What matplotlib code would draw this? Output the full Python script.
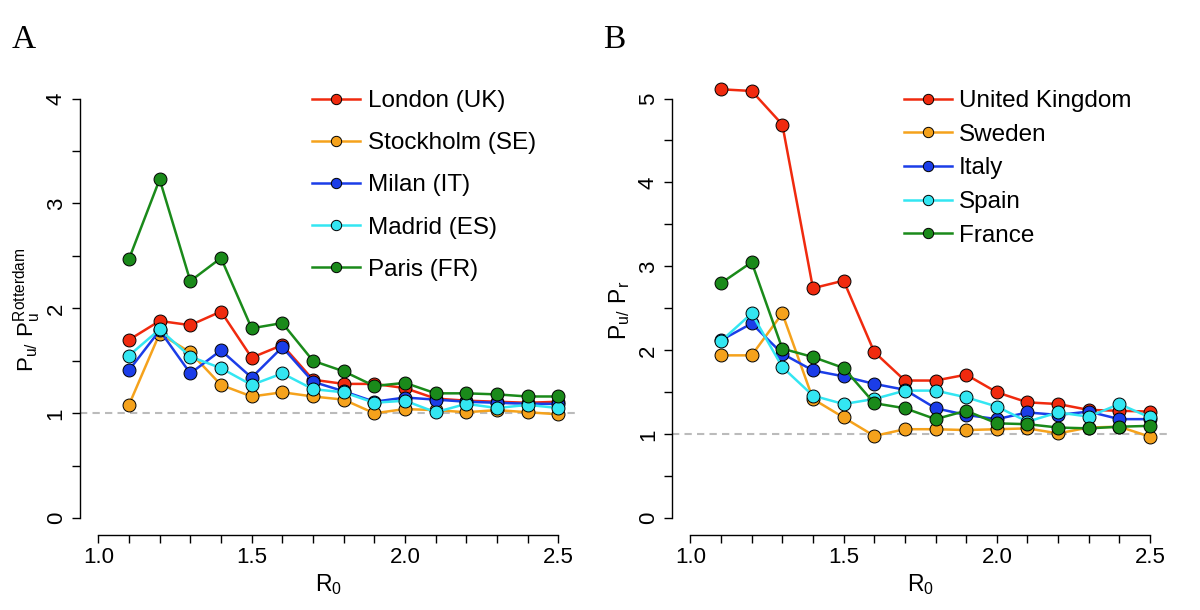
import numpy as np
import matplotlib
matplotlib.use("Agg")
import matplotlib.pyplot as plt
from matplotlib.ticker import MultipleLocator, FixedLocator

plt.rcParams['font.family'] = ['Liberation Sans', 'DejaVu Sans']
plt.rcParams['mathtext.fontset'] = 'custom'
plt.rcParams['mathtext.rm'] = 'Liberation Sans'

# R0 values on the x axis
r0 = [1.1, 1.2, 1.3, 1.4, 1.5, 1.6, 1.7, 1.8, 1.9, 2.0, 2.1, 2.2, 2.3, 2.4, 2.5]

# panel A: cities relative to Rotterdam
city_names = ["London (UK)", "Stockholm (SE)", "Milan (IT)", "Madrid (ES)", "Paris (FR)"]
london = [1.70, 1.88, 1.84, 1.97, 1.53, 1.65, 1.32, 1.28, 1.28, 1.24, 1.14, 1.12, 1.11, 1.10, 1.11]
stockholm = [1.08, 1.76, 1.58, 1.27, 1.16, 1.20, 1.16, 1.13, 1.00, 1.04, 1.03, 1.01, 1.03, 1.01, 0.99]
milan = [1.41, 1.79, 1.38, 1.60, 1.34, 1.63, 1.30, 1.21, 1.11, 1.15, 1.13, 1.11, 1.10, 1.09, 1.09]
madrid = [1.55, 1.80, 1.54, 1.43, 1.27, 1.38, 1.23, 1.20, 1.10, 1.12, 1.01, 1.09, 1.05, 1.08, 1.05]
paris = [2.47, 3.23, 2.26, 2.48, 1.81, 1.86, 1.50, 1.40, 1.26, 1.29, 1.19, 1.19, 1.18, 1.16, 1.16]

# panel B: countries, urban vs rural
country_names = ["United Kingdom", "Sweden", "Italy", "Spain", "France"]
uk = [5.11, 5.09, 4.69, 2.74, 2.83, 1.98, 1.64, 1.64, 1.71, 1.50, 1.38, 1.36, 1.29, 1.28, 1.27]
sweden = [1.94, 1.94, 2.44, 1.42, 1.20, 0.98, 1.06, 1.06, 1.05, 1.06, 1.07, 1.01, 1.08, 1.09, 0.97]
italy = [2.12, 2.32, 1.96, 1.76, 1.69, 1.60, 1.53, 1.31, 1.23, 1.18, 1.26, 1.23, 1.27, 1.18, 1.18]
spain = [2.11, 2.44, 1.80, 1.46, 1.36, 1.42, 1.52, 1.52, 1.44, 1.33, 1.15, 1.26, 1.21, 1.36, 1.20]
france = [2.80, 3.05, 2.02, 1.92, 1.79, 1.37, 1.31, 1.18, 1.28, 1.13, 1.12, 1.08, 1.07, 1.09, 1.10]

colors = ['#F02A0E', '#F5A21C', '#1B3DE8', '#33E6F2', '#1A8A1A']


def style_axis(ax, ymax):
    ax.set_xlim(0.94, 2.56)
    ax.set_ylim(-0.04 * ymax, 1.04 * ymax)
    ax.spines['top'].set_visible(False)
    ax.spines['right'].set_visible(False)
    ax.spines['left'].set_bounds(0, ymax)
    ax.spines['bottom'].set_bounds(1.0, 2.5)
    for s in ['left', 'bottom']:
        ax.spines[s].set_linewidth(1.0)
    ax.xaxis.set_major_locator(FixedLocator([1.0, 1.5, 2.0, 2.5]))
    ax.xaxis.set_minor_locator(MultipleLocator(0.1))
    ax.set_xticklabels(["1.0", "1.5", "2.0", "2.5"])
    ax.yaxis.set_major_locator(MultipleLocator(1))
    ax.yaxis.set_minor_locator(MultipleLocator(0.5))
    ax.tick_params(which='both', length=5.5, width=1.0, direction='out', labelsize=16, pad=3)
    ax.tick_params(axis='y', labelrotation=90, pad=4)
    for lab in ax.get_yticklabels():
        lab.set_va('center')
    ax.axhline(1, color='#BBBBBB', lw=1.5, ls=(0, (3.5, 2.5)), zorder=0)
    ax.set_xlabel(r'$\mathregular{R_0}$', fontsize=16.5, labelpad=3)


fig = plt.figure(figsize=(12, 6.1), dpi=100)
axA = fig.add_axes([0.0666, 0.123, 0.414, 0.743])
axB = fig.add_axes([0.56, 0.123, 0.4137, 0.743])

for vals, name, c in zip([london, stockholm, milan, madrid, paris], city_names, colors):
    axA.plot(r0, vals, color=c, lw=1.8, marker='o', ms=9.3, mec='black', mew=0.7, label=name)
for vals, name, c in zip([uk, sweden, italy, spain, france], country_names, colors):
    axB.plot(r0, vals, color=c, lw=1.8, marker='o', ms=9.3, mec='black', mew=0.7, label=name)

style_axis(axA, 4)
style_axis(axB, 5)

axA.legend(loc='upper left', bbox_to_anchor=(312 / 1200, 1 - 90 / 610), bbox_transform=fig.transFigure,
           frameon=False, fontsize=17.5, handlelength=1.97, handletextpad=0.33, labelspacing=0.83,
           borderpad=0, borderaxespad=0, markerscale=0.8)
axB.legend(loc='upper left', bbox_to_anchor=(904 / 1200, 1 - 90 / 610), bbox_transform=fig.transFigure,
           frameon=False, fontsize=17.5, handlelength=1.97, handletextpad=0.3, labelspacing=0.48,
           borderpad=0, borderaxespad=0, markerscale=0.8)

fig.text(27 / 1200, 1 - 310 / 610, r'$\mathregular{P_{u/}\ P_{u}^{Rotterdam}}$', rotation=90,
         ha='center', va='center', fontsize=16)
fig.text(620 / 1200, 1 - 310 / 610, r'$\mathregular{P_{u/}\ P_{r}}$', rotation=90,
         ha='center', va='center', fontsize=16.5)

fig.text(12 / 1200, 1 - 48 / 610, 'A', family='Liberation Serif', fontsize=24, va='baseline')
fig.text(603 / 1200, 1 - 48 / 610, 'B', family='Liberation Serif', fontsize=24, va='baseline')

fig.savefig('out.png', dpi=100)
